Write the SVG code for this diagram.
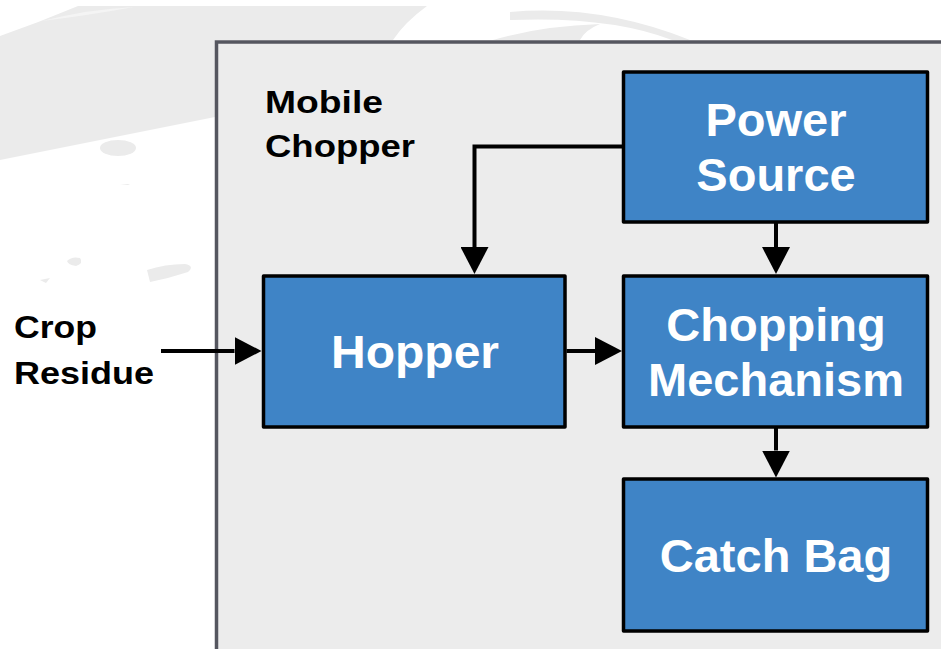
<svg xmlns="http://www.w3.org/2000/svg" width="941" height="649" viewBox="0 0 941 649">
<style>
.bg{fill:#ebebeb}
.box{fill:#3f84c6;stroke:#000;stroke-width:3.5;stroke-linejoin:round}
.wt{font-family:"Liberation Sans",Arial,sans-serif;font-weight:bold;font-size:47px;fill:#fff;text-anchor:middle}
.bt{font-family:"Liberation Sans",Arial,sans-serif;font-weight:bold;font-size:32px;fill:#000}
.con{fill:none;stroke:#000;stroke-width:4}
</style>
<defs>
<marker id="ah" markerUnits="userSpaceOnUse" markerWidth="28" markerHeight="28" refX="0" refY="14" orient="auto">
<path d="M0,0 L27,14 L0,28 Z" fill="#000"/>
</marker>
</defs>
<rect width="941" height="649" fill="#fff"/>
<g id="background">
<path class="bg" d="M0,36 Q40,22 78,6 L427,6 Q405,22 393,40 L215,40 L215,117 L0,160 Z"/>
<path d="M42,21 Q90,9 134,7 Q90,15 42,21 Z" fill="#f4f4f4"/>
<path class="bg" d="M510,12 Q600,4 690,40 L672,40 Q610,16 510,20 Z"/>
<path class="bg" d="M493,40 Q540,26 600,24 Q585,30 580,40 Z"/>
<ellipse class="bg" cx="118" cy="148" rx="18" ry="8"/>
<path class="bg" d="M67,261 Q72,256 80,258 Q84,263 76,266 Q68,265 67,261 Z"/>
<path class="bg" d="M147,270 Q165,264 185,264 Q195,266 188,272 Q170,278 150,282 Z"/>
<path class="bg" d="M40,280 L50,278 L46,283 Z"/>
<path class="bg" d="M120,184 L130,184 L128,185 Z"/>
</g>
<g id="mobile-chopper">
<rect x="216.5" y="42" width="800" height="700" fill="#ececec" stroke="#55565f" stroke-width="3.5"/>
<text class="bt" x="265" y="113" textLength="118" lengthAdjust="spacingAndGlyphs">Mobile</text>
<text class="bt" x="265" y="157" textLength="150" lengthAdjust="spacingAndGlyphs">Chopper</text>
</g>
<g id="crop-residue">
<text class="bt" x="14" y="338" textLength="83" lengthAdjust="spacingAndGlyphs">Crop</text>
<text class="bt" x="14" y="384" textLength="140" lengthAdjust="spacingAndGlyphs">Residue</text>
</g>
<g id="power-source">
<rect class="box" x="623.5" y="72" width="304" height="150"/>
<text class="wt" x="776" y="136">Power</text>
<text class="wt" x="776" y="191">Source</text>
</g>
<g id="hopper">
<rect class="box" x="263.5" y="276" width="301.5" height="151"/>
<text class="wt" x="415" y="368" textLength="168" lengthAdjust="spacingAndGlyphs">Hopper</text>
</g>
<g id="chopping-mechanism">
<rect class="box" x="623.5" y="276" width="304" height="151"/>
<text class="wt" x="776" y="341">Chopping</text>
<text class="wt" x="776" y="396">Mechanism</text>
</g>
<g id="catch-bag">
<rect class="box" x="623.5" y="479" width="304" height="152"/>
<text class="wt" x="776" y="572">Catch Bag</text>
</g>
<g id="connectors">
<line class="con" x1="161" y1="351" x2="234.5" y2="351" marker-end="url(#ah)"/>
<line class="con" x1="566.5" y1="351" x2="595" y2="351" marker-end="url(#ah)"/>
<line class="con" x1="776" y1="223" x2="776" y2="247" marker-end="url(#ah)"/>
<line class="con" x1="776" y1="428" x2="776" y2="450.5" marker-end="url(#ah)"/>
<polyline class="con" points="622,146.5 474.5,146.5 474.5,247" marker-end="url(#ah)"/>
</g>
</svg>
